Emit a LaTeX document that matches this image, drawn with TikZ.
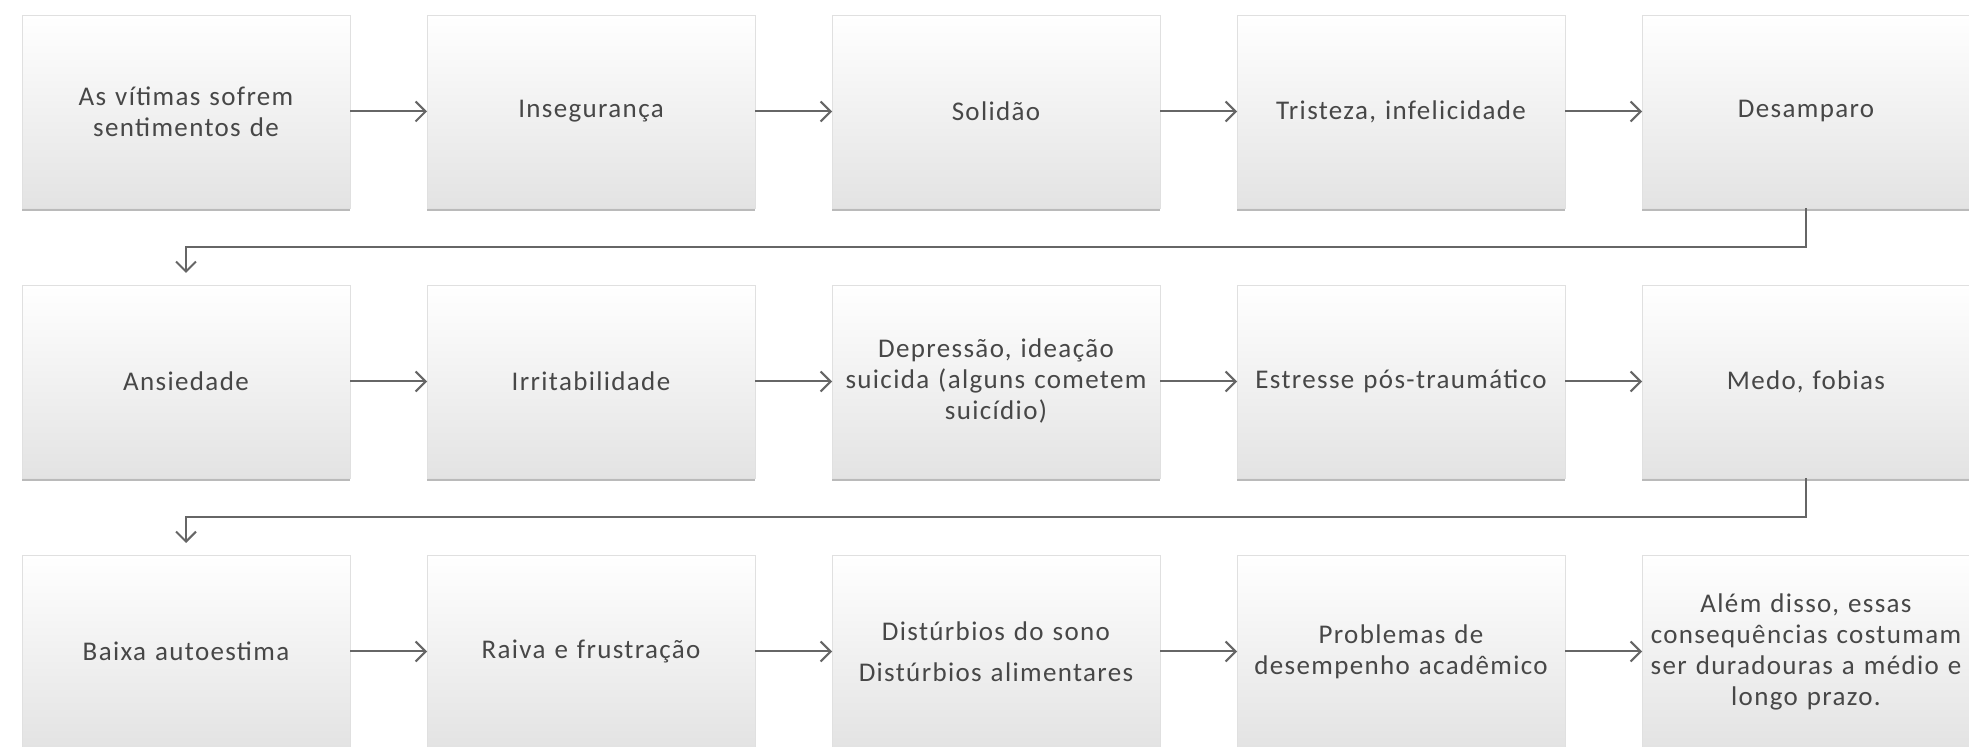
\documentclass[tikz,border=0pt]{standalone}
\usepackage{fontspec}
\setmainfont{Carlito}[LetterSpace=5,WordSpace=0.6]
\usetikzlibrary{positioning,shadows,arrows.meta}
\begin{document}
\begin{tikzpicture}[x=0.5pt,y=0.5pt]
% styles
\tikzset{box/.style={rectangle, draw=black!12, top color=white, middle color=white,
    bottom color=black!11, minimum width=164pt, minimum height=96.5pt,
    text width=156pt, align=center, inner sep=3pt, outer sep=0pt,
    text=black!72, font=\fontsize{13.5}{15.5}\selectfont,
    drop shadow={shadow xshift=0pt, shadow yshift=-1.5pt, fill=black!45, opacity=.6}},
  flow/.style={draw=black!60, line width=1pt, -{Straight Barb[length=5pt,width=10pt]}}}
\tikzset{node distance=38.5pt}
% page
\useasboundingbox (0,0) rectangle (1969,-747);
% first row
\node[box] (a1) at (186,-111.5) {As vítimas sofrem\\ sentimentos de};
\node[box, right=of a1] (a2) {Insegurança};
\node[box, right=of a2] (a3) {Solidão};
\node[box, right=of a3] (a4) {Tristeza, infelicidade};
\node[box, right=of a4] (a5) {Desamparo};
% second row
\node[box, below=of a1] (b1) {Ansiedade};
\node[box, right=of b1] (b2) {Irritabilidade};
\node[box, right=of b2] (b3) {Depressão, ideação\\ suicida (alguns cometem\\ suicídio)};
\node[box, right=of b3] (b4) {Estresse pós-traumático};
\node[box, right=of b4] (b5) {Medo, fobias};
% third row
\node[box, below=of b1] (c1) {Baixa autoestima};
\node[box, right=of c1] (c2) {Raiva e frustração};
\node[box, right=of c2] (c3) {Distúrbios do sono\\[5pt] Distúrbios alimentares};
\node[box, right=of c3] (c4) {Problemas de\\ desempenho acadêmico};
\node[box, right=of c4] (c5) {Além disso, essas\\ consequências costumam\\ ser duradouras a médio e\\ longo prazo.};
% arrows in each row
\foreach \r in {a,b,c} {
  \foreach \i/\j in {1/2,2/3,3/4,4/5} { \draw[flow] (\r\i) -- (\r\j); }
}
% from one row to the next
\draw[flow] (a5.south) -- ++(0,-39) -| ([yshift=6pt]b1.north);
\draw[flow] (b5.south) -- ++(0,-39) -| ([yshift=6pt]c1.north);
\end{tikzpicture}
\end{document}
